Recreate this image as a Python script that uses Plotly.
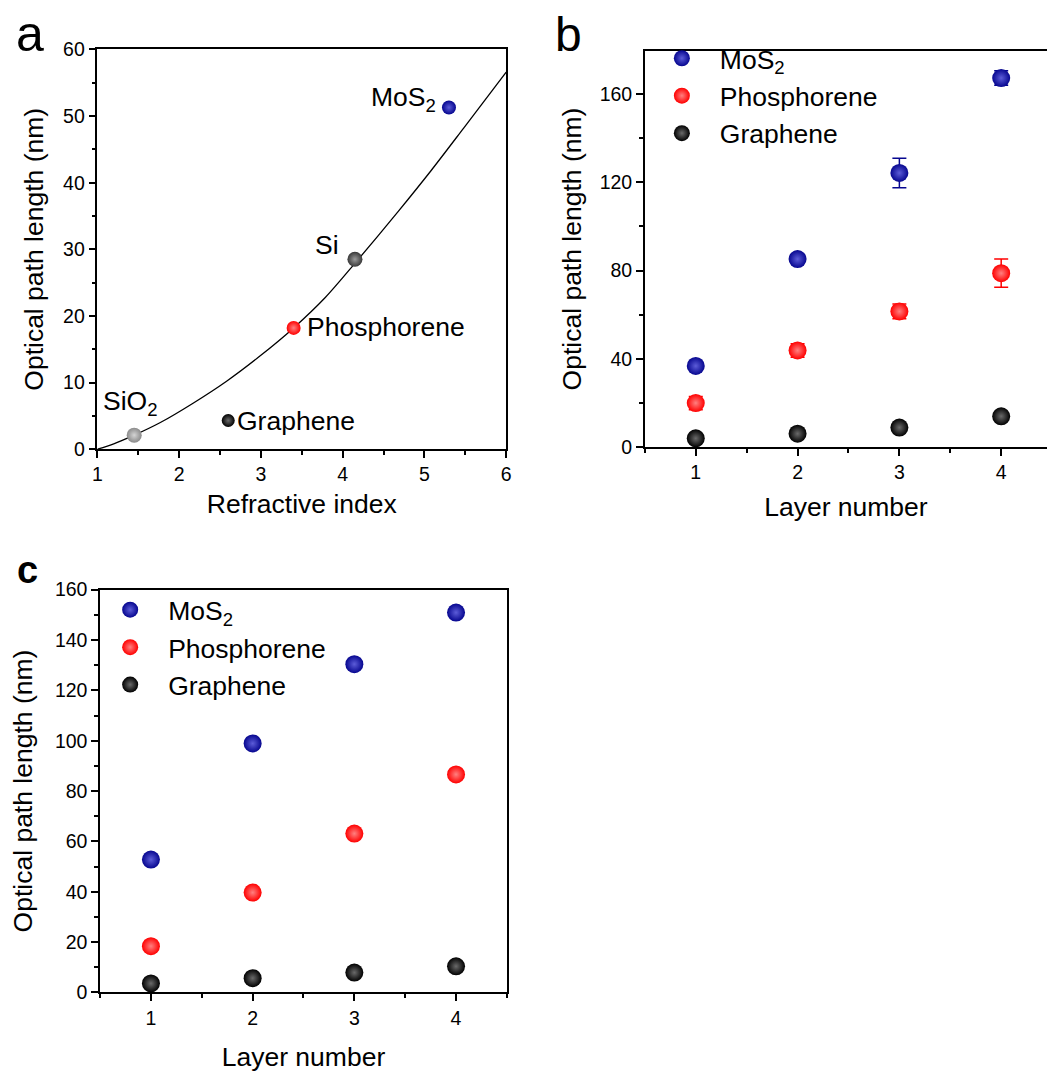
import plotly.graph_objects as go

# ---------------- data ----------------
# Panel a: guide curve and materials
curve_n = [1.0, 1.2, 1.45, 1.77, 2.17, 2.58, 2.98, 3.40, 3.79, 4.15, 4.68, 5.08, 5.48, 6.0]
curve_opl = [0.0, 0.8, 2.1, 4.0, 6.9, 10.2, 13.9, 18.2, 22.8, 27.9, 35.7, 41.8, 48.2, 56.6]

mat_names = ["SiO<sub>2</sub>", "Graphene", "Phosphorene", "Si", "MoS<sub>2</sub>"]
mat_n = [1.45, 2.60, 3.40, 4.15, 5.30]
mat_opl = [2.1, 4.3, 18.2, 28.5, 51.3]

# Panel b: measured, with error bars
layers = [1, 2, 3, 4]
b_mos2 = [36.8, 85.2, 124.2, 167.2]
b_mos2_err = [0.6, 1.5, 6.7, 3.3]
b_phos = [20.0, 43.8, 61.5, 78.8]
b_phos_err = [3.0, 3.1, 3.3, 6.4]
b_gr = [4.0, 6.1, 8.9, 14.0]
b_gr_err = [0.6, 0.8, 0.8, 1.0]

# Panel c: calculated
c_mos2 = [52.8, 98.9, 130.4, 150.9]
c_phos = [18.4, 39.7, 63.1, 86.6]
c_gr = [3.6, 5.7, 7.9, 10.4]

series_names = ["MoS<sub>2</sub>", "Phosphorene", "Graphene"]

# ---------------- styles ----------------
FONT = "Arial, Liberation Sans, Helvetica, sans-serif"
W, H = 1052, 1075
NAVY, NAVY_L = "#06068f", "#5c5cd8"
RED, RED_L = "#ff0000", "#ff8080"
BLK, BLK_L = "#000000", "#6a6a6a"
SI, SI_L = "#383838", "#9a9a9a"
SIO2, SIO2_L = "#8a8a8a", "#d4d4d4"
mat_colors = [(SIO2, SIO2_L), (BLK, BLK_L), (RED, RED_L), (SI, SI_L), (NAVY, NAVY_L)]
mat_sizes = [15, 13, 14, 15, 14]
series_colors = [(NAVY, NAVY_L), (RED, RED_L), (BLK, BLK_L)]


def sphere(color, size):
    return dict(color=color[0], size=size, line=dict(width=0),
                gradient=dict(type="radial", color=color[1]))


fig = go.Figure()

# Panel a
fig.add_trace(go.Scatter(x=curve_n, y=curve_opl, mode="lines",
                         line=dict(color="black", width=1.3, shape="spline", smoothing=0.8),
                         showlegend=False, hoverinfo="skip", xaxis="x", yaxis="y"))
for nm, xv, yv, col, sz in zip(mat_names, mat_n, mat_opl, mat_colors, mat_sizes):
    fig.add_trace(go.Scatter(x=[xv], y=[yv], mode="markers", name=nm,
                             marker=sphere(col, sz), showlegend=False,
                             xaxis="x", yaxis="y"))

# Panel b
for nm, vals, errs, col in zip(series_names, [b_mos2, b_phos, b_gr],
                               [b_mos2_err, b_phos_err, b_gr_err], series_colors):
    fig.add_trace(go.Scatter(x=layers, y=vals, mode="markers", name=nm,
                             marker=sphere(col, 18),
                             error_y=dict(type="data", array=errs, color=col[0],
                                          thickness=1.5, width=7),
                             legend="legend", xaxis="x2", yaxis="y2"))

# Panel c
for nm, vals, col in zip(series_names, [c_mos2, c_phos, c_gr], series_colors):
    fig.add_trace(go.Scatter(x=layers, y=vals, mode="markers", name=nm,
                             marker=sphere(col, 18),
                             legend="legend2", xaxis="x3", yaxis="y3"))


def px(x):
    return x / W


def py(y):
    return 1 - y / H


axis_common = dict(showline=True, linecolor="black", linewidth=1.5,
                   ticks="outside", ticklen=7, tickwidth=1.5, tickcolor="black",
                   showgrid=False, zeroline=False,
                   tickfont=dict(family=FONT, size=19.5, color="black"),
                   title_font=dict(family=FONT, size=26.5, color="black"))

fig.update_layout(
    width=W, height=H,
    margin=dict(l=0, r=0, t=0, b=0),
    paper_bgcolor="white", plot_bgcolor="white",
    font=dict(family=FONT, color="black"),
    xaxis=dict(axis_common, domain=[px(93.3), px(506)], range=[1, 6], dtick=1,
               mirror=True, anchor="y",
               minor=dict(dtick=0.5, ticks="outside", ticklen=4, tickwidth=1.5, tickcolor="black"),
               title=dict(text="Refractive index", standoff=10)),
    yaxis=dict(axis_common, domain=[py(447.3), py(39.3)], range=[0, 60], dtick=10,
               mirror=True, anchor="x",
               minor=dict(dtick=5, ticks="outside", ticklen=4, tickwidth=1.5, tickcolor="black"),
               title=dict(text="Optical path length (nm)", standoff=12)),
    xaxis2=dict(axis_common, domain=[px(646), 1.0], range=[0.5, 4.45], dtick=1,
                mirror=True, anchor="y2",
                minor=dict(dtick=0.5, ticks="outside", ticklen=4, tickwidth=1.5, tickcolor="black"),
                title=dict(text="Layer number", standoff=15)),
    yaxis2=dict(axis_common, domain=[py(445.3), py(40.7)], range=[0, 179.5], dtick=40,
                anchor="x2",
                minor=dict(dtick=20, ticks="outside", ticklen=4, tickwidth=1.5, tickcolor="black"),
                title=dict(text="Optical path length (nm)", standoff=10)),
    xaxis3=dict(axis_common, domain=[px(96), px(506.7)], range=[0.5, 4.5], dtick=1,
                mirror=True, anchor="y3",
                minor=dict(dtick=0.5, ticks="outside", ticklen=4, tickwidth=1.5, tickcolor="black"),
                title=dict(text="Layer number", standoff=20)),
    yaxis3=dict(axis_common, domain=[py(1002), py(590.7)], range=[0, 160], dtick=20,
                mirror=True, anchor="x3",
                minor=dict(dtick=10, ticks="outside", ticklen=4, tickwidth=1.5, tickcolor="black"),
                title=dict(text="Optical path length (nm)", standoff=15)),
    legend=dict(x=px(645), y=py(24), xanchor="left", yanchor="top",
                bgcolor="rgba(0,0,0,0)", borderwidth=0, itemwidth=66,
                font=dict(family=FONT, size=26.5, color="black"), tracegroupgap=0),
    legend2=dict(x=px(88), y=py(587), xanchor="left", yanchor="top",
                 bgcolor="rgba(0,0,0,0)", borderwidth=0, itemwidth=66,
                 font=dict(family=FONT, size=26.5, color="black"), tracegroupgap=0),
)

ann_font = dict(family=FONT, size=26.5, color="black")
annotations = [
    dict(text="MoS<sub>2</sub>", x=5.17, y=52.6, xanchor="right", yanchor="middle"),
    dict(text="Si", x=3.98, y=30.6, xanchor="right", yanchor="middle"),
    dict(text="Phosphorene", x=3.535, y=18.3, xanchor="left", yanchor="middle"),
    dict(text="Graphene", x=2.68, y=4.3, xanchor="left", yanchor="middle"),
    dict(text="SiO<sub>2</sub>", x=1.04, y=7.0, xanchor="left", yanchor="middle"),
]
for a in annotations:
    fig.add_annotation(xref="x", yref="y", showarrow=False, font=ann_font, **a)

# panel letters
fig.add_annotation(text="a", xref="paper", yref="paper", x=px(9), y=py(23),
                   xanchor="left", yanchor="middle", showarrow=False,
                   font=dict(family=FONT, size=50, color="black"))
fig.add_annotation(text="b", xref="paper", yref="paper", x=px(553), y=py(24),
                   xanchor="left", yanchor="middle", showarrow=False,
                   font=dict(family=FONT, size=48, color="black"))
fig.add_annotation(text="<b>c</b>", xref="paper", yref="paper", x=px(10), y=py(571),
                   xanchor="left", yanchor="middle", showarrow=False,
                   font=dict(family=FONT, size=38, color="black"))

fig.write_html("out.html")
